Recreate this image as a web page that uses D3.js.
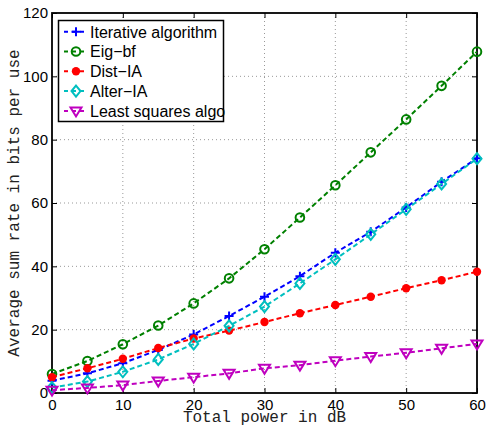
<!DOCTYPE html>
<html>
<head>
<meta charset="utf-8">
<script src="https://cdn.jsdelivr.net/npm/d3@7"></script>
<style>
  body { margin: 0; background: #fff; }
  svg { display: block; }
  .tick text { font-family: "Liberation Sans", Arial, sans-serif; font-size: 15px; fill: #000; }
  .axlabel { font-family: "Liberation Mono", "DejaVu Sans Mono", monospace; font-size: 16px; fill: #222; }
  .legend text { font-family: "Liberation Sans", Arial, sans-serif; font-size: 16px; fill: #000; }
</style>
</head>
<body>
<svg width="486" height="426"></svg>
<script>
// x values (total power in dB)
const power = [0, 5, 10, 15, 20, 25, 30, 35, 40, 45, 50, 55, 60];

const iterative = [3.9, 6.2, 9.4, 13.6, 18.5, 24.3, 30.4, 36.9, 44.3, 50.9, 58.6, 66.7, 74.1];
const eigBf     = [6.0, 10.1, 15.4, 21.3, 28.3, 36.2, 45.4, 55.4, 65.6, 76.0, 86.4, 97.0, 107.8];
const distIA    = [5.0, 7.8, 10.8, 14.2, 17.2, 19.7, 22.4, 25.2, 27.8, 30.4, 33.1, 35.6, 38.3];
const alterIA   = [1.7, 3.6, 6.7, 10.6, 15.5, 21.2, 27.3, 34.6, 42.2, 50.1, 58.0, 66.0, 74.0];
const leastSq   = [0.9, 1.6, 2.5, 3.8, 5.0, 6.2, 7.8, 8.8, 10.2, 11.5, 12.7, 14.1, 15.5];

const seriesNames = ["Iterative algorithm", "Eig\u2212bf", "Dist\u2212IA", "Alter\u2212IA", "Least squares algo"];
const xTicks = [0, 10, 20, 30, 40, 50, 60];
const yTicks = [0, 20, 40, 60, 80, 100, 120];

const series = [
  { name: seriesNames[0], values: iterative, color: "#0000ff", marker: "plus" },
  { name: seriesNames[1], values: eigBf,     color: "#008000", marker: "circle" },
  { name: seriesNames[2], values: distIA,    color: "#ff0000", marker: "dot" },
  { name: seriesNames[3], values: alterIA,   color: "#00bfbf", marker: "diamond" },
  { name: seriesNames[4], values: leastSq,   color: "#bf00bf", marker: "triangle" }
];

const svg = d3.select("svg");
const pL = 52, pR = 477, pT = 13, pB = 393;

const x = d3.scaleLinear().domain([0, 60]).range([pL, pR]);
const y = d3.scaleLinear().domain([0, 120]).range([pB, pT]);

// grid
const grid = svg.append("g");
grid.selectAll("line.gx").data(xTicks.slice(1, -1)).enter().append("line")
  .attr("x1", d => x(d)).attr("x2", d => x(d)).attr("y1", pT).attr("y2", pB)
  .attr("stroke", "#999").attr("stroke-width", 1).attr("stroke-dasharray", "1,3");
grid.selectAll("line.gy").data(yTicks.slice(1, -1)).enter().append("line")
  .attr("x1", pL).attr("x2", pR).attr("y1", d => y(d)).attr("y2", d => y(d))
  .attr("stroke", "#999").attr("stroke-width", 1).attr("stroke-dasharray", "1,3");

// axes with inward ticks
svg.append("g").attr("transform", `translate(0,${pB})`)
  .call(d3.axisBottom(x).tickValues(xTicks).tickSize(-5).tickPadding(6))
  .call(g => g.select(".domain").remove());
svg.append("g").attr("transform", `translate(${pL},0)`)
  .call(d3.axisLeft(y).tickValues(yTicks).tickSize(-5).tickPadding(4))
  .call(g => g.select(".domain").remove());
svg.append("g").attr("transform", `translate(0,${pT})`)
  .call(d3.axisTop(x).tickValues(xTicks).tickSize(-5).tickFormat(""))
  .call(g => g.select(".domain").remove());
svg.append("g").attr("transform", `translate(${pR},0)`)
  .call(d3.axisRight(y).tickValues(yTicks).tickSize(-5).tickFormat(""))
  .call(g => g.select(".domain").remove());
svg.selectAll(".tick line").attr("stroke", "#000").attr("stroke-width", 1);

svg.append("rect")
  .attr("x", pL).attr("y", pT).attr("width", pR - pL).attr("height", pB - pT)
  .attr("fill", "none").attr("stroke", "#000").attr("stroke-width", 1.8);

function drawMarker(g, type, color) {
  if (type === "plus") {
    g.append("path").attr("d", "M-4.5,0H4.5M0,-4.5V4.5")
      .attr("stroke", color).attr("stroke-width", 2).attr("fill", "none");
  } else if (type === "circle") {
    g.append("circle").attr("r", 4.3)
      .attr("stroke", color).attr("stroke-width", 2).attr("fill", "none");
  } else if (type === "dot") {
    g.append("circle").attr("r", 4.2).attr("fill", color);
  } else if (type === "diamond") {
    g.append("path").attr("d", "M0,-5.5L4.5,0L0,5.5L-4.5,0Z")
      .attr("stroke", color).attr("stroke-width", 2).attr("fill", "none");
  } else if (type === "triangle") {
    g.append("path").attr("d", "M-5.5,-3.5L5.5,-3.5L0,5.5Z")
      .attr("stroke", color).attr("stroke-width", 2).attr("fill", "none");
  }
}

const line = d3.line().x((d, i) => x(power[i])).y(d => y(d));

series.forEach(s => {
  svg.append("path").datum(s.values)
    .attr("d", line)
    .attr("fill", "none").attr("stroke", s.color)
    .attr("stroke-width", 2).attr("stroke-dasharray", "5,3");
  s.values.forEach((v, i) => {
    const g = svg.append("g").attr("transform", `translate(${x(power[i])},${y(v)})`);
    drawMarker(g, s.marker, s.color);
  });
});

// axis labels
svg.append("text").attr("class", "axlabel")
  .attr("x", (pL + pR) / 2).attr("y", 422).attr("text-anchor", "middle")
  .text("Total power in dB");
svg.append("text").attr("class", "axlabel")
  .attr("transform", `translate(18.5,${(pT + pB) / 2}) rotate(-90)`)
  .attr("text-anchor", "middle")
  .text("Average sum rate in bits per use");

// legend
const lg = svg.append("g").attr("class", "legend");
lg.append("rect").attr("x", 58.5).attr("y", 20.5).attr("width", 165).attr("height", 101)
  .attr("fill", "#fff").attr("stroke", "#000").attr("stroke-width", 1.5);
series.forEach((s, i) => {
  const cy = 31.7 + i * 19.8;
  lg.append("line").attr("x1", 64).attr("x2", 84).attr("y1", cy).attr("y2", cy)
    .attr("stroke", s.color).attr("stroke-width", 2).attr("stroke-dasharray", "4,4");
  const g = lg.append("g").attr("transform", `translate(76,${cy})`);
  drawMarker(g, s.marker, s.color);
  lg.append("text").attr("x", 90).attr("y", cy + 5.8).text(s.name);
});
</script>
</body>
</html>
